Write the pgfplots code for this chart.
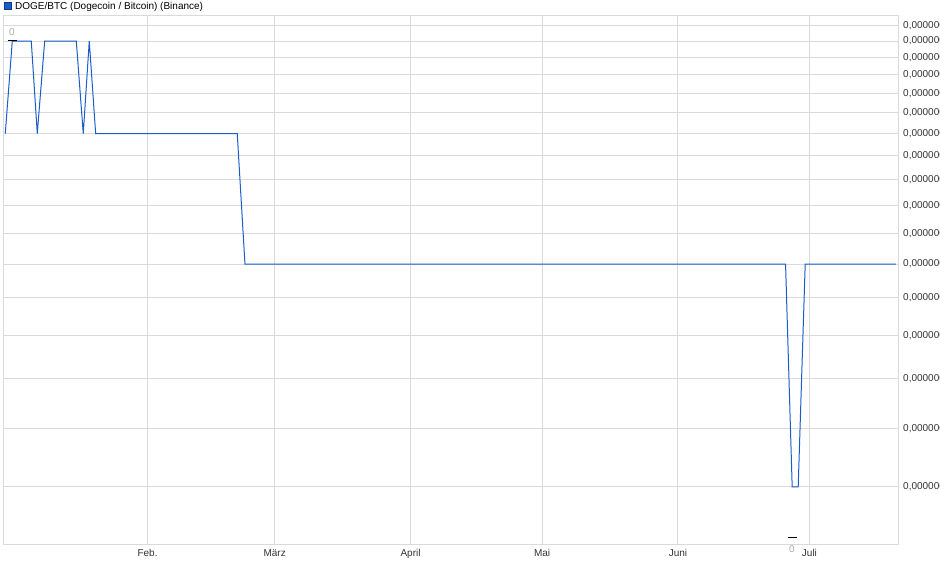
\documentclass[border=0pt]{standalone}
\usepackage{fontspec}
\setmainfont{Liberation Sans}
\usepackage{pgfplots}
\pgfplotsset{compat=1.18}
\definecolor{dogeblue}{HTML}{1A5CC8}
\definecolor{dogeedge}{HTML}{0E3A8C}
\definecolor{gridgray}{HTML}{DADADA}
\definecolor{labelgray}{HTML}{333333}
\definecolor{markgray}{HTML}{AAAAAA}

\begin{document}
\begin{tikzpicture}
\path[use as bounding box] (0pt,0pt) rectangle (940pt,579pt);
% legend square and title
\filldraw[fill=dogeblue, draw=dogeedge, line width=0.6pt] (4pt,570pt) rectangle (11pt,577pt);
\node[anchor=base west, inner sep=0pt, font=\fontsize{10}{12}\selectfont, text=black] at (15pt,569.5pt) {DOGE/BTC (Dogecoin / Bitcoin) (Binance)};
\begin{axis}[
    at={(3pt,34pt)}, anchor=south west,
    scale only axis,
    width=895pt, height=529pt,
    xmin=-1.98, xmax=202.2,
    ymode=log,
    ymin=4.175, ymax=21.62,
    xtick={31,60,91,121,152,182},
    xticklabels={Feb.,März,April,Mai,Juni,Juli},
    ytick={5,6,7,8,9,10,11,12,13,14,15,16,17,18,19,20,21},
    yticklabel={0,000000},
    yticklabel pos=right,
    major tick length=0pt,
    grid=major,
    major grid style={gridgray, line width=1pt},
    axis line style={gridgray, line width=1pt},
    ticklabel style={font=\fontsize{10}{12}\selectfont, text=labelgray},
    xticklabel style={anchor=north, inner sep=0pt, yshift=-4.5pt},
    yticklabel style={anchor=west, inner sep=0pt, xshift=5pt},
    clip=false,
]
\addplot[dogeblue, line width=1pt] coordinates {
    (-1.46,15) (0.14,20) (4.47,20) (5.84,15) (7.53,20) (14.74,20)
    (16.33,15) (17.70,20) (19.16,15) (51.46,15) (53.22,10)
    (176.55,10) (178.06,5) (179.43,5) (181.03,10) (201.71,10)
};
% high / low markers
\draw[black, line width=1pt] (axis cs:-0.84,20.05) -- (axis cs:1.21,20.05);
\node[text=markgray, font=\fontsize{10}{12}\selectfont, inner sep=0pt] at (axis cs:0.05,20.55) {0};
\draw[black, line width=1pt] (axis cs:177.1,4.267) -- (axis cs:179.1,4.267);
\node[text=markgray, font=\fontsize{10}{12}\selectfont, inner sep=0pt] at (axis cs:178.0,4.12) {0};
\end{axis}
\end{tikzpicture}
\end{document}
